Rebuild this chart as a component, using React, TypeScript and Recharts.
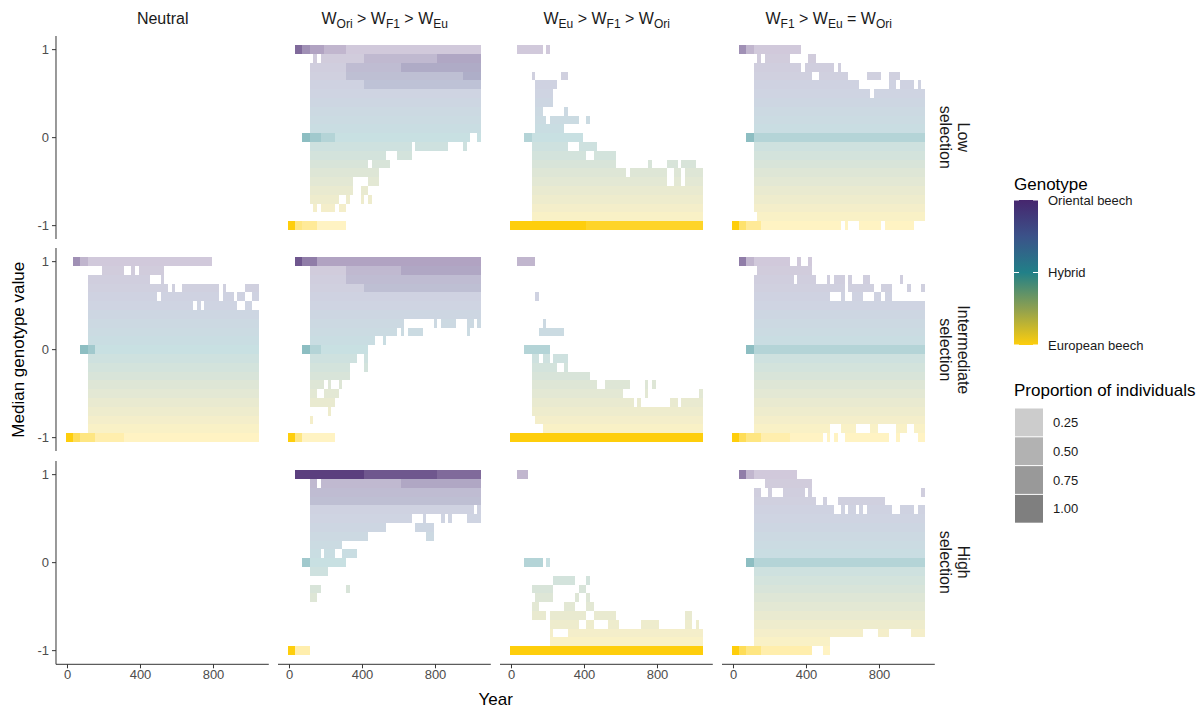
import React from "react";
import { ScatterChart, Scatter, XAxis, YAxis } from "recharts";

const FONT = "'Liberation Sans', Arial, Helvetica, sans-serif";

// ---------- data ----------
const YEARS = [0, 20, 40, 60, 80, 100, 120, 140, 160, 180, 200, 220, 240, 260, 280, 300, 320, 340, 360, 380, 400, 420, 440, 460, 480, 500, 520, 540, 560, 580, 600, 620, 640, 660, 680, 700, 720, 740, 760, 780, 800, 820, 840, 860, 880, 900, 920, 940, 960, 980, 1000, 1020, 1040];
const GENOTYPE = [1, 0.9, 0.8, 0.7, 0.6, 0.5, 0.4, 0.3, 0.2, 0.1, 0, -0.1, -0.2, -0.3, -0.4, -0.5, -0.6, -0.7, -0.8, -0.9, -1];
// proportion of individuals for each level code 0-9 used in the panel rows below
const LEVEL_PROPORTION = [0.0, 0.06, 0.17, 0.28, 0.39, 0.5, 0.61, 0.72, 0.86, 1.0];
const X_TICKS = [0, 400, 800];
const Y_TICKS = [-1, 0, 1];
const COL_LABELS = [["Neutral"], ["W", "Ori", " > W", "F1", " > W", "Eu"], ["W", "Eu", " > W", "F1", " > W", "Ori"], ["W", "F1", " > W", "Eu", " = W", "Ori"]];
const ROW_LABELS = [["Low", "selection"], ["Intermediate", "selection"], ["High", "selection"]];
const GENOTYPE_LABELS = ["Oriental beech", "Hybrid", "European beech"];
const GENOTYPE_BREAKS = [1, 0, -1];
const PROPORTION_BREAKS = [0.25, 0.5, 0.75, 1.0];

// rows from genotype 1 (top) to -1 (bottom); tokens "firstCol-lastCol:level"
const lowNeutral: string[] = [];
const lowOri = [
  "2-3:6 4-5:4 6-9:3 10-15:2 16-52:1",
  "7:1 9-20:1 21-40:2 41-52:3",
  "6-15:1 16-30:2 31-52:3",
  "6-15:1 16-30:2 31-47:2 48-52:3",
  "6-20:1 21-52:2",
  "6-52:1",
  "6-52:1",
  "6-52:1",
  "6-52:1",
  "6-52:1",
  "4-5:4 6-8:3 9-12:2 13-49:1 52:1",
  "6-33:1 35-43:1 48:1",
  "6-26:1 30-33:1",
  "6-21:1 23-27:1",
  "6-24:1",
  "6-17:1 22-24:1",
  "6-17:1 20-21:1",
  "6-13:1 16:1 20:1 22:1",
  "7:1 9-12:1 14-15:1",
  "",
  "0-1:9 2-3:4 4-7:3 8-15:1",
];
const lowEu = [
  "2-8:1 10:1",
  "",
  "",
  "6:1 14-15:1",
  "7-12:1",
  "7-11:1",
  "7-11:1",
  "7-8:1 15:1",
  "7-9:1 11-18:1 21:1",
  "7-14:1",
  "4-5:2 6-19:1",
  "6-15:1 19-23:1",
  "6-20:1 23-28:1",
  "6-28:1 38:1 43-45:1 47-50:1",
  "6-31:1 33-42:1 45-46:1 48-52:1",
  "6-42:1 45-46:1 48-52:1",
  "6-52:1",
  "6-52:1",
  "6-52:1",
  "6-52:1",
  "0-20:9 21-52:8",
];
const lowF1 = [
  "2-3:4 4-5:2 6-18:1",
  "7:1 9-15:1 21-22:1",
  "6-18:1 20-27:1 29:1",
  "6-21:1 24-31:1 37-40:1 43-45:1",
  "6-34:1 43-44:1 46-49:1 51:1",
  "6-37:1 39-52:1",
  "6-52:1",
  "6-52:1",
  "6-52:1",
  "6-52:1",
  "4-5:4 6-52:2",
  "6-52:1",
  "6-52:1",
  "6-52:1",
  "6-52:1",
  "6-52:1",
  "6-52:1",
  "6-52:1",
  "6-52:1",
  "7-52:1",
  "0-1:9 2-3:5 4-7:3 8-29:1 31:1 35-40:1 42-49:1",
];
const intNeutral = [
  "2-3:4 4-5:2 6-39:1",
  "10-15:1 18:1 20-26:1",
  "6-22:1 26:1",
  "6-27:1 29:1 32-41:1 43:1 49-52:1",
  "6-24:1 26-41:1 43-45:1 47-48:1 51-52:1",
  "6-34:1 36:1 38-46:1 49-50:1",
  "6-52:1",
  "6-52:1",
  "6-52:1",
  "6-52:1",
  "4-5:4 6-7:3 8-52:1",
  "6-52:1",
  "6-52:1",
  "6-52:1",
  "6-52:1",
  "6-52:1",
  "6-52:1",
  "6-52:1",
  "6-52:1",
  "6-52:1",
  "0-1:9 2-3:6 4-7:4 8-15:2 16-52:1",
];
const intOri = [
  "2-3:7 4-7:5 8-52:3",
  "6-15:1 16-30:2 31-52:3",
  "6-15:1 16-52:2",
  "6-20:1 21-52:2",
  "6-52:1",
  "6-52:1",
  "6-52:1",
  "6-31:1 40:1 42-45:1 49-50:1 52:1",
  "6-29:1 31:1 33-36:1 49:1",
  "6-23:1 26:1",
  "4-5:4 6-8:2 9-21:1",
  "6-18:1 21:1",
  "6-16:1 21:1",
  "6-16:1",
  "6-9:1 11:1 14:1",
  "6-7:1 10-13:1",
  "6-12:1",
  "11:1",
  "6:1",
  "",
  "0-1:9 2-3:4 4-12:1",
];
const intEu = [
  "2-6:2",
  "",
  "",
  "",
  "7:1",
  "",
  "",
  "9:1",
  "8-14:1",
  "",
  "4-10:2",
  "6-7:1 9-10:1 12-15:1",
  "6-12:1 15:1",
  "6-21:1",
  "6-23:1 26-32:1 37:1 39:1",
  "6-30:1 37:1 52:1",
  "6-33:1 35:1 44-45:1 47-52:1",
  "6-52:1",
  "7-52:1",
  "9-52:1",
  "0-52:9",
];
const intF1 = [
  "2-3:5 4-5:2 6-15:1 18:1 21:1",
  "7-21:1",
  "6-16:1 18-22:1 26:1 28-30:1 32:1 36-37:1 46:1",
  "6-30:1 32-38:1 41-43:1 48:1 52:1",
  "6-26:1 30:1 33-35:1 39-40:1 42-43:1",
  "6-52:1",
  "6-52:1",
  "6-52:1",
  "6-52:1",
  "6-52:1",
  "4-5:4 6-52:2",
  "6-52:1",
  "6-52:1",
  "6-52:1",
  "6-52:1",
  "6-52:1",
  "6-52:1",
  "6-52:1",
  "6-52:1",
  "6-26:1 30-33:1 38-39:1 45-47:1 50-52:1",
  "0-1:9 2-3:6 4-7:4 8-15:2 16-24:1 26:1 28:1 31-42:1 45:1 51-52:1",
];
const highNeutral: string[] = [];
const highOri = [
  "2-20:8 21-40:7 41-52:6",
  "6-7:2 9-30:2 31-52:3",
  "6-20:2 21-52:2",
  "6-52:2",
  "6-50:1 52:1",
  "6-33:1 37:1 42:1 44:1 49-52:1",
  "6-26:1 35-39:1",
  "6-21:1 38-39:1",
  "6-14:1",
  "6-8:1 10-12:1 15-18:1",
  "4-5:3 6-15:1",
  "6-10:1",
  "",
  "6-8:1 16:1",
  "6-7:1",
  "",
  "",
  "",
  "",
  "",
  "0-1:9 2-5:2",
];
const highEu = [
  "2-4:2",
  "",
  "",
  "",
  "",
  "",
  "",
  "",
  "",
  "",
  "4-8:2 10:1",
  "",
  "12-17:1 21:1",
  "6-11:1 19-20:1",
  "7-11:1 18:1 21:1",
  "6-7:1 15-17:1 21-22:1",
  "6-9:1 11-20:1 23-28:1 48-49:1",
  "11-18:1 21-22:1 27-29:1 36-40:1 48-49:1 51:1",
  "11:1 16-52:1",
  "11-52:1",
  "0-52:9",
];
const highF1 = [
  "2-3:5 4-5:2 6-17:1",
  "9-21:1",
  "6-7:1 10:1 14-19:1 21:1 52:1",
  "6-22:1 25:1 29-41:1",
  "6-27:1 30:1 32-33:1 35:1 37-43:1 46-49:1 51-52:1",
  "6-52:1",
  "6-52:1",
  "6-52:1",
  "6-52:1",
  "6-52:1",
  "4-5:4 6-52:2",
  "6-52:1",
  "6-52:1",
  "6-52:1",
  "6-52:1",
  "6-52:1",
  "6-52:1",
  "6-52:1",
  "6-35:1 40-42:1 49-52:1",
  "6-26:1",
  "0-1:9 2-3:6 4-7:4 8-21:2 25-26:1",
];

const PANELS = [
  [lowNeutral, lowOri, lowEu, lowF1],
  [intNeutral, intOri, intEu, intF1],
  [highNeutral, highOri, highEu, highF1],
];

// ---------- layout / style ----------
const PW = 212.8;
const PH = 203.3;
const LEFT0 = 56.3;
const TOP0 = 35.6;
const DX = 222;
const DY = 212.5;
const XDOM: [number, number] = [-63, 1103];
const YDOM: [number, number] = [-1.155, 1.155];
const TW = (PW * 20) / (XDOM[1] - XDOM[0]);
const TH = (PH * 0.1) / (YDOM[1] - YDOM[0]);
const YW = 40;
const XH = 34;
const AXIS_COL = "#333333";
const TICK_COL = "#4D4D4D";

const STOPS: [number, number[]][] = [
  [-1, [254, 206, 12]],
  [-0.5, [142, 160, 80]],
  [0, [33, 128, 136]],
  [0.5, [59, 82, 137]],
  [1, [70, 38, 110]],
];
function colorAt(v: number) {
  for (let k = 0; k < STOPS.length - 1; k++) {
    const [a, ca] = STOPS[k];
    const [b, cb] = STOPS[k + 1];
    if (v >= a - 1e-9 && v <= b + 1e-9) {
      const t = (v - a) / (b - a);
      const c = ca.map((x, j) => Math.round(x + (cb[j] - x) * t));
      return `rgb(${c[0]},${c[1]},${c[2]})`;
    }
  }
  return "#000";
}
const alphaOf = (p: number) => 0.2 + 0.8 * p;

function buildCells(spec: string[]) {
  const out: { x: number; y: number; p: number }[] = [];
  spec.forEach((row, r) => {
    row
      .trim()
      .split(/\s+/)
      .filter((t) => t.length > 0)
      .forEach((tok) => {
        const [range, lvl] = tok.split(":");
        const parts = range.split("-").map(Number);
        const a = parts[0];
        const b = parts.length > 1 ? parts[1] : parts[0];
        for (let i = a; i <= b; i++)
          out.push({ x: YEARS[i], y: GENOTYPE[r], p: LEVEL_PROPORTION[Number(lvl)] });
      });
  });
  return out;
}

const Tile = (props: any) => {
  const { cx, cy, payload } = props;
  if (cx == null || cy == null || !payload) return <g />;
  return (
    <rect
      x={cx - TW / 2}
      y={cy - TH / 2}
      width={TW}
      height={TH}
      fill={colorAt(payload.y)}
      fillOpacity={alphaOf(payload.p)}
      shapeRendering="crispEdges"
    />
  );
};

function Panel({ row, col, spec }: { row: number; col: number; spec: string[] }) {
  const showY = col === 0;
  const showX = row === 2;
  const w = PW + (showY ? YW : 0);
  const h = PH + (showX ? XH : 0);
  const left = LEFT0 + DX * col - (showY ? YW : 0);
  const top = TOP0 + DY * row;
  const data = buildCells(spec);
  const tickStyle = { fontSize: 13, fill: TICK_COL, fontFamily: FONT };
  return (
    <div style={{ position: "absolute", left, top }}>
      <ScatterChart width={w} height={h} margin={{ top: 0, right: 0, bottom: 0, left: 0 }}>
        <XAxis
          type="number"
          dataKey="x"
          domain={XDOM}
          ticks={X_TICKS}
          interval={0}
          allowDataOverflow
          hide={!showX}
          height={XH}
          tickSize={4}
          tickMargin={1}
          axisLine={{ stroke: AXIS_COL, strokeWidth: 1 }}
          tickLine={{ stroke: AXIS_COL, strokeWidth: 1 }}
          tick={tickStyle}
        />
        <YAxis
          type="number"
          dataKey="y"
          domain={YDOM}
          ticks={Y_TICKS}
          interval={0}
          allowDataOverflow
          hide={!showY}
          width={YW}
          tickSize={4}
          tickMargin={3}
          axisLine={{ stroke: AXIS_COL, strokeWidth: 1 }}
          tickLine={{ stroke: AXIS_COL, strokeWidth: 1 }}
          tick={tickStyle}
        />
        <Scatter data={data} shape={Tile} isAnimationActive={false} />
      </ScatterChart>
    </div>
  );
}

function StripTop({ parts, cx }: { parts: string[]; cx: number }) {
  return (
    <text x={cx} y={24} textAnchor="middle" fontSize={16} fill="#1A1A1A" fontFamily={FONT}>
      {parts.map((s, i) =>
        i % 2 === 1 ? (
          <tspan key={i} fontSize={12} dy={4}>
            {s}
          </tspan>
        ) : (
          <tspan key={i} dy={i === 0 ? 0 : -4}>
            {s}
          </tspan>
        )
      )}
    </text>
  );
}

export default function App() {
  const barX = 1014;
  const barTop = 200;
  const barBot = 345;
  const barW = 24;
  const gy = (v: number) => barTop + ((1 - v) / 2) * (barBot - barTop);
  return (
    <div
      style={{
        position: "absolute",
        left: 0,
        top: 0,
        width: 1201,
        height: 711,
        background: "#ffffff",
        overflow: "hidden",
        fontFamily: FONT,
      }}
    >
      {PANELS.map((rowSpecs, r) =>
        rowSpecs.map((spec, c) => <Panel key={`${r}-${c}`} row={r} col={c} spec={spec} />)
      )}
      <svg
        width={1201}
        height={711}
        style={{ position: "absolute", left: 0, top: 0, pointerEvents: "none" }}
      >
        <defs>
          <linearGradient id="genoGrad" x1="0" y1="0" x2="0" y2="1">
            {STOPS.slice()
              .reverse()
              .map(([v], i) => (
                <stop key={i} offset={`${((1 - v) / 2) * 100}%`} stopColor={colorAt(v)} />
              ))}
          </linearGradient>
        </defs>
        {COL_LABELS.map((parts, c) => (
          <StripTop key={c} parts={parts} cx={LEFT0 + DX * c + PW / 2} />
        ))}
        {ROW_LABELS.map((lines, r) => {
          const cy = TOP0 + DY * r + PH / 2;
          return (
            <g key={r} transform={`translate(954, ${cy}) rotate(90)`}>
              <text x={0} y={-9} textAnchor="middle" dominantBaseline="central" fontSize={16} fill="#1A1A1A" fontFamily={FONT}>
                {lines[0]}
              </text>
              <text x={0} y={9} textAnchor="middle" dominantBaseline="central" fontSize={16} fill="#1A1A1A" fontFamily={FONT}>
                {lines[1]}
              </text>
            </g>
          );
        })}
        <text x={LEFT0 + (3 * DX + PW) / 2} y={705} textAnchor="middle" fontSize={17} fill="#000" fontFamily={FONT}>
          Year
        </text>
        <text
          transform={`translate(18, ${TOP0 + (2 * DY + PH) / 2}) rotate(-90)`}
          textAnchor="middle"
          dominantBaseline="central"
          fontSize={17}
          fill="#000"
          fontFamily={FONT}
        >
          Median genotype value
        </text>

        {/* Genotype legend */}
        <text x={barX} y={190} fontSize={17} fill="#000" fontFamily={FONT}>
          Genotype
        </text>
        <rect x={barX} y={barTop} width={barW} height={barBot - barTop} fill="url(#genoGrad)" />
        {GENOTYPE_BREAKS.map((v, i) => (
          <g key={i}>
            <line x1={barX} x2={barX + 5} y1={gy(v)} y2={gy(v)} stroke="#fff" strokeWidth={1} />
            <line x1={barX + barW - 5} x2={barX + barW} y1={gy(v)} y2={gy(v)} stroke="#fff" strokeWidth={1} />
            <text x={1048} y={gy(v)} dominantBaseline="central" fontSize={13} fill="#1A1A1A" fontFamily={FONT}>
              {GENOTYPE_LABELS[i]}
            </text>
          </g>
        ))}

        {/* Proportion legend */}
        <text x={barX} y={396} fontSize={17} fill="#000" fontFamily={FONT}>
          Proportion of individuals
        </text>
        {PROPORTION_BREAKS.map((p, i) => {
          const y = 408 + i * 28.8;
          return (
            <g key={i}>
              <rect x={1015} y={y + 0.5} width={28} height={27.8} fill="#7F7F7F" fillOpacity={alphaOf(p)} />
              <text x={1053} y={y + 14.4} dominantBaseline="central" fontSize={13} fill="#1A1A1A" fontFamily={FONT}>
                {p.toFixed(2)}
              </text>
            </g>
          );
        })}
      </svg>
    </div>
  );
}
